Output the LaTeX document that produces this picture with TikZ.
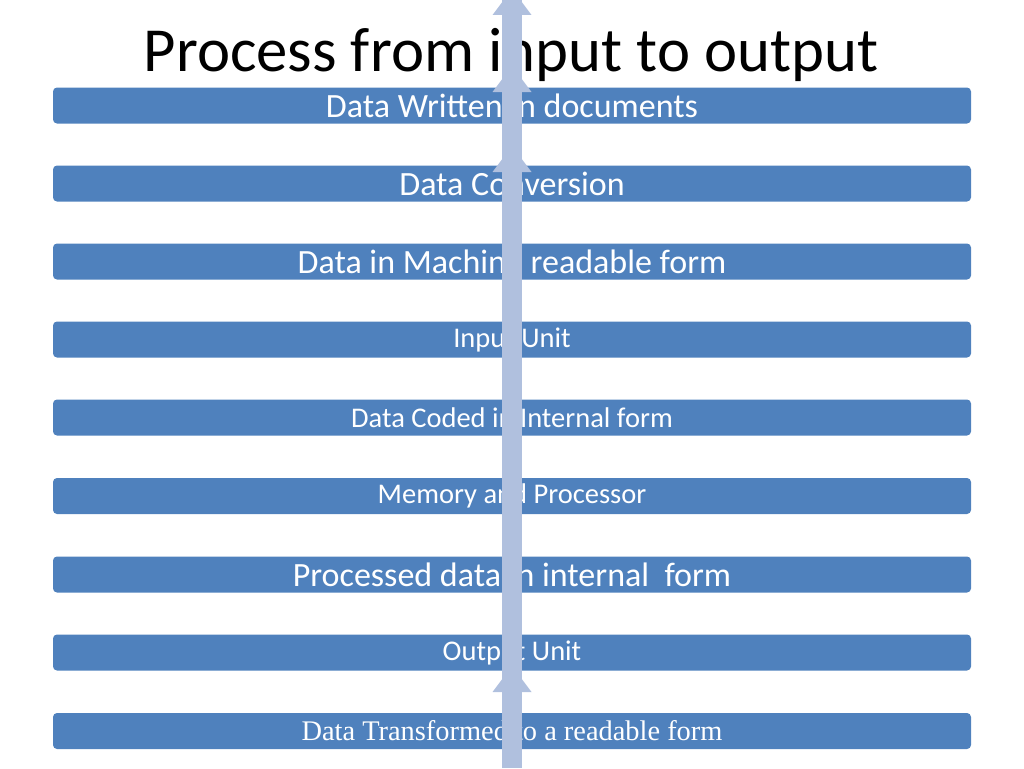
\documentclass[tikz,border=0pt]{standalone}
\usepackage{fontspec}
\setmainfont{Carlito}
\newfontfamily\serifft{Liberation Serif}
\definecolor{barblue}{RGB}{79,129,189}
\definecolor{arrowblue}{RGB}{176,192,222}
\tikzset{
  bar/.style={fill=barblue, draw=none, rounded corners=4pt, minimum width=918pt, minimum height=36pt, inner sep=0pt, text=white},
  bigtxt/.style={font=\fontsize{34}{36}\selectfont},
  smalltxt/.style={font=\fontsize{28.5}{30}\selectfont},
  shaft/.style={draw=arrowblue, line width=20pt},
  head/.style={fill=arrowblue, draw=none}
}
\begin{document}
\begin{tikzpicture}[x=1pt,y=-1pt]
\useasboundingbox (0,0) rectangle (1024,768);
\node[font=\fontsize{62.7}{66}\selectfont] (title) at (511,55) {Process from input to output};
\node[bar,bigtxt] (b1) at (512,105.5) {Data Written in documents};
\node[bar,bigtxt] (b2) at (512,183.5) {Data Conversion};
\node[bar,bigtxt] (b3) at (512,261.5) {Data in Machine readable form};
\node[bar,smalltxt] (b4) at (512,339.5) {Input Unit};
\node[bar,smalltxt] (b5) at (512,417.5) {Data Coded in Internal form};
\node[bar,smalltxt] (b6) at (512,496) {Memory and Processor};
\node[bar,bigtxt] (b7) at (512,574.5) {Processed data in internal\ \ form};
\node[bar,smalltxt] (b8) at (512,652.5) {Output Unit};
\node[bar,font=\serifft\fontsize{28.4}{30}\selectfont] (b9) at (512,731) {Data Transformed to a readable form};
\coordinate (top) at (512,0);
\coordinate (bot) at (512,768);
\draw[shaft] (bot) -- (top);
\foreach \y in {15,92,172,692}{
  \fill[head] (512,\y-26) -- (531.5,\y) -- (492.5,\y) -- cycle;
}
\end{tikzpicture}
\end{document}
